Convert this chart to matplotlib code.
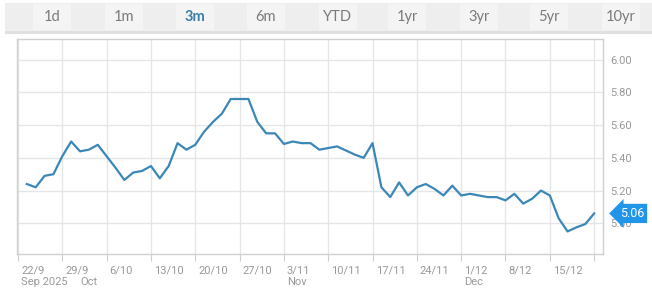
import matplotlib.pyplot as plt
import matplotlib.transforms as mtransforms
from matplotlib.patches import Rectangle

# Valores diarios (días hábiles, 23/9 .. 22/12)
valores = [5.24, 5.22, 5.29, 5.30, 5.41, 5.50, 5.44, 5.45, 5.48, 5.41,
           5.34, 5.265, 5.31, 5.32, 5.35, 5.275, 5.35, 5.49, 5.45, 5.48,
           5.56, 5.62, 5.67, 5.76, 5.76, 5.76, 5.62, 5.55, 5.55, 5.485,
           5.50, 5.49, 5.49, 5.45, 5.46, 5.47, 5.445, 5.42, 5.40, 5.49,
           5.22, 5.16, 5.25, 5.17, 5.22, 5.24, 5.21, 5.17, 5.23, 5.17,
           5.18, 5.17, 5.16, 5.16, 5.14, 5.18, 5.12, 5.15, 5.20, 5.17,
           5.03, 4.95, 4.975, 4.995, 5.06]
dias = list(range(1, len(valores) + 1))

# lunes de cada semana (índice de día hábil) y sus etiquetas
lunes = [0, 5, 10, 15, 20, 25, 30, 35, 40, 45, 50, 55, 60, 65]
etiquetas_x = ["22/9", "29/9", "6/10", "13/10", "20/10", "27/10",
               "3/11", "10/11", "17/11", "24/11", "1/12", "8/12", "15/12", ""]
meses_pos = [0, 5, 30, 50]
meses_txt = ["Sep 2025", "Oct", "Nov", "Dec"]
niveles_y = [5.00, 5.20, 5.40, 5.60, 5.80, 6.00]

pestanas = ["1d", "1m", "3m", "6m", "YTD", "1yr", "3yr", "5yr", "10yr"]
pestana_activa = "3m"

W, H = 652, 292
fig = plt.figure(figsize=(W / 100, H / 100), dpi=100)
fig.patch.set_facecolor("white")

# barra de pestañas
fig.patches.append(Rectangle((5 / W, 1 - 31 / H), 647 / W, 28 / H, transform=fig.transFigure,
                             facecolor="#eeeeee", edgecolor="none"))
fig.patches.append(Rectangle((5 / W, 1 - 33.5 / H), 647 / W, 2.5 / H, transform=fig.transFigure,
                             facecolor="#e0e0e0", edgecolor="none"))
centros = [52, 124, 195, 266, 338, 407, 479, 549, 621]
for txt, cx in zip(pestanas, centros):
    fig.patches.append(Rectangle(((cx - 19) / W, 1 - 30 / H), 38 / W, 26 / H,
                                 transform=fig.transFigure, facecolor="#f4f4f4", edgecolor="none"))
    activa = txt == pestana_activa
    fig.text(cx / W, 1 - 17 / H, txt, ha="center", va="center", fontsize=10.5,
             family="Lato", color="#3b7ea8" if activa else "#7a7a7a",
             fontweight="bold" if activa else "normal")

ax = fig.add_axes([17 / W, 38 / H, 586 / W, 215 / H])
ax.plot(dias, valores, color="#3a87b8", lw=1.6, solid_joinstyle="round")

ax.set_xlim(-0.11, 66.0)
ax.set_ylim(4.812, 6.127)

ax.set_xticks(lunes)
ax.set_xticklabels(etiquetas_x)
ax.set_yticks(niveles_y)
ax.set_yticklabels([f"{v:.2f}" for v in niveles_y])
ax.yaxis.tick_right()

ax.grid(True, color="#e6e6e6", lw=1)
ax.tick_params(axis="x", direction="out", length=5, color="#cccccc", pad=3,
               labelsize=8, labelcolor="#999999")
ax.tick_params(axis="y", length=0, pad=5, labelsize=8, labelcolor="#999999")
desplaza = mtransforms.ScaledTranslation(3 / 100, 0, fig.dpi_scale_trans)
for lbl in ax.get_xticklabels():
    lbl.set_horizontalalignment("left")
    lbl.set_family("Roboto")
    lbl.set_transform(lbl.get_transform() + desplaza)
for lbl in ax.get_yticklabels():
    lbl.set_family("Roboto")

# segunda fila: meses
trans_mes = ax.get_xaxis_transform()
for pos, txt in zip(meses_pos, meses_txt):
    dx = 18 if txt == "Oct" else 3
    off = mtransforms.ScaledTranslation(dx / 100, -28 / 100, fig.dpi_scale_trans)
    ax.text(pos, 0, txt, transform=trans_mes + off, ha="left", va="center",
            fontsize=8, family="Roboto", color="#999999")

for s in ax.spines.values():
    s.set_color("#d0d0d0")
    s.set_linewidth(1)

# etiqueta del último valor
ax.annotate(f"{valores[-1]:.2f}", xy=(1.0, valores[-1]), xycoords=("axes fraction", "data"),
            xytext=(12, 0), textcoords="offset points", va="center", ha="left",
            fontsize=9, family="Roboto", color="white",
            bbox=dict(boxstyle="larrow,pad=0.25", fc="#2196e8", ec="none"),
            annotation_clip=False)

fig.savefig("out.png", dpi=100)
